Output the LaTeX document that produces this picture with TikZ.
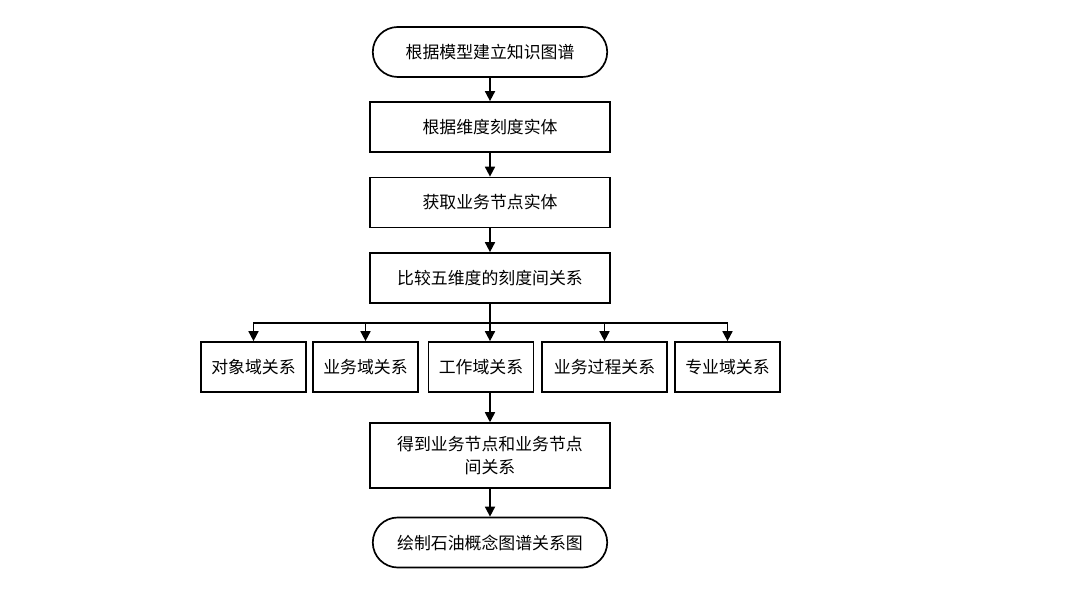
\documentclass[tikz,border=0pt]{standalone}
\usepackage{fontspec}
\setmainfont{Noto Sans CJK SC}
\usetikzlibrary{arrows.meta, shapes.misc}

\begin{document}
\begin{tikzpicture}[x=0.025cm, y=-0.025cm, proc/.style={draw, line width=1.2pt, minimum width=6cm, minimum height=1.25cm, inner sep=2pt, align=center, font=\fontsize{12}{16}\selectfont}, term/.style={proc, rounded rectangle}, sub/.style={proc, minimum width=2.62cm}, flow/.style={-{Triangle[length=2.5mm, width=2.5mm]}, line width=1.2pt}]

\useasboundingbox (0,0) rectangle (1080,590);

\node[term] (start) at (490,52) {根据模型建立知识图谱};
\node[proc] (dim) at (490,127) {根据维度刻度实体};
\node[proc] (ent) at (490,202.5) {获取业务节点实体};
\node[proc] (cmp) at (490,278) {比较五维度的刻度间关系};

\node[sub] (obj) at (253.5,367) {对象域关系};
\node[sub] (biz) at (365.5,367) {业务域关系};
\node[sub] (wrk) at (481,367) {工作域关系};
\node[sub, minimum width=3.12cm] (prc) at (604.5,367) {业务过程关系};
\node[sub] (spc) at (727.5,367) {专业域关系};

\node[proc, minimum height=1.62cm] (res) at (490,455.5) {得到业务节点和业务节点\\间关系};
\node[term] (stop) at (490,542.5) {绘制石油概念图谱关系图};

\coordinate (split) at (490,323);

\draw[flow] (start) -- (dim);
\draw[flow] (dim) -- (ent);
\draw[flow] (ent) -- (cmp);
\draw[flow] (cmp) -- (cmp.south |- wrk.north);
\foreach \n in {obj,biz,prc,spc}
  \draw[flow] (split) -| (\n.north);
\draw[flow] (cmp.south |- wrk.south) -- (res);
\draw[flow] (res) -- (stop);
\end{tikzpicture}
\end{document}
